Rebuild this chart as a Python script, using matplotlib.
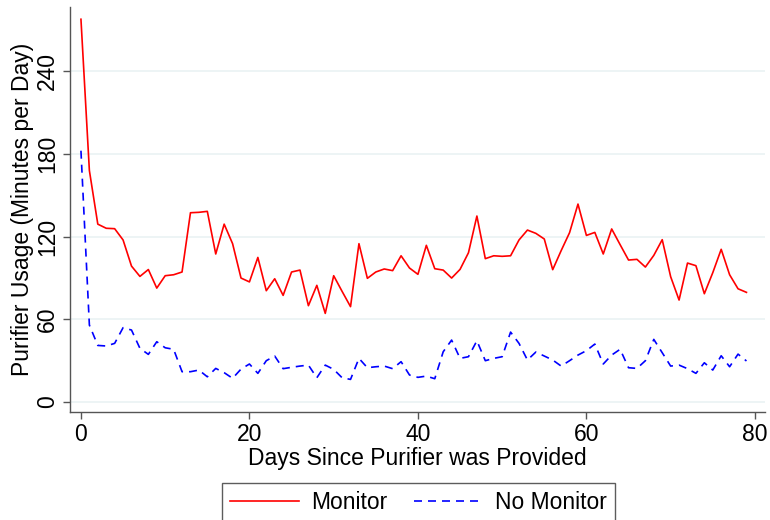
import matplotlib
matplotlib.use("Agg")
import matplotlib.pyplot as plt

plt.rcParams['font.family'] = ['Liberation Sans', 'DejaVu Sans']

days = list(range(80))

monitor = [278, 168, 129, 126, 125.7, 117.5, 98.5, 91, 96, 82.5,
           91.5, 92.2, 94.2, 137.3, 137.6, 138.3, 107.3, 129, 114.8, 89.8,
           87, 104.8, 80.6, 89.3, 77.2, 94.2, 95.6, 69.7, 84.5, 64.1,
           91.5, 80.1, 69, 114.8, 89.6, 94.2, 96.4, 95.2, 106, 97.1,
           92.5, 113.6, 96.6, 95.6, 89.8, 96.1, 108.2, 134.9, 103.9, 106,
           105.6, 106, 117.5, 124.7, 122.3, 118.2, 95.9, 109.7, 122.8, 143.6,
           120.8, 123, 107.3, 125.5, 114.1, 102.9, 103.4, 97.8, 106.3, 117.7,
           90.8, 73.8, 100.7, 98.8, 78.4, 93.7, 110.7, 92.2, 82, 79.4]

no_monitor = [182.4, 55.6, 40.8, 40.4, 42.3, 53.7, 52, 38.7, 34.3, 43.5,
              39.1, 38, 21.7, 21.7, 22.9, 18, 24.1, 21, 16.9, 23.6,
              27.3, 20.5, 29.7, 33.1, 23.9, 24.9, 25.8, 26.5, 17.3, 26.5,
              23.4, 17.3, 16.1, 31.4, 24.6, 25.3, 25.8, 23.9, 29, 19.3,
              17.6, 18.5, 16.6, 36.2, 44.7, 31.4, 32.6, 44.2, 29.7, 31.4,
              32.6, 50.5, 42.3, 30.2, 36, 33.1, 30.2, 25.8, 29.7, 33.8,
              37, 41.8, 27.3, 33.8, 38, 24.6, 24.1, 29.7, 45.2, 35.5,
              25.8, 26.5, 23.9, 20.5, 28.2, 22.9, 33.3, 25.3, 34.5, 29.5]

x_ticks = [0, 20, 40, 60, 80]
y_ticks = [0, 60, 120, 180, 240]

FS = 16.5

fig = plt.figure(figsize=(7.7, 5.2), dpi=100)
ax = fig.add_axes([70 / 770, 1 - 412 / 520, 695 / 770, 405 / 520])

ax.plot(days, monitor, color='#ff0000', lw=1.2, label='Monitor')
ax.plot(days, no_monitor, color='#0000ff', lw=1.2, linestyle=(0, (4.8, 3.6)),
        label='No Monitor')

ax.set_xlim(-1.3, 81.2)
ax.set_ylim(-7.6, 286.9)
ax.set_xticks(x_ticks)
ax.set_yticks(y_ticks)
ax.set_yticklabels([str(v) for v in y_ticks], rotation=90, va='center')

ax.yaxis.grid(True, color='#eaf2f3', lw=1.2)
ax.set_axisbelow(True)

for side in ('top', 'right'):
    ax.spines[side].set_visible(False)
for side in ('left', 'bottom'):
    ax.spines[side].set_color('#555555')
    ax.spines[side].set_linewidth(1.0)

ax.tick_params(axis='both', direction='out', length=5, width=1.0,
               color='#555555', labelsize=FS, labelcolor='black', pad=3)

ax.set_xlabel('Days Since Purifier was Provided', fontsize=FS, labelpad=1)
ax.set_ylabel('Purifier Usage (Minutes per Day)', fontsize=FS, labelpad=1)

leg = fig.legend(loc='upper center', bbox_to_anchor=(0.5435, 1 - 483 / 520),
                 ncol=2, frameon=True, fancybox=False, fontsize=FS,
                 handlelength=3.0, columnspacing=1.2, borderpad=0.35,
                 handletextpad=0.5, borderaxespad=0)
leg.get_frame().set_edgecolor('#333333')
leg.get_frame().set_linewidth(1.0)

fig.savefig('out.png', dpi=100)
